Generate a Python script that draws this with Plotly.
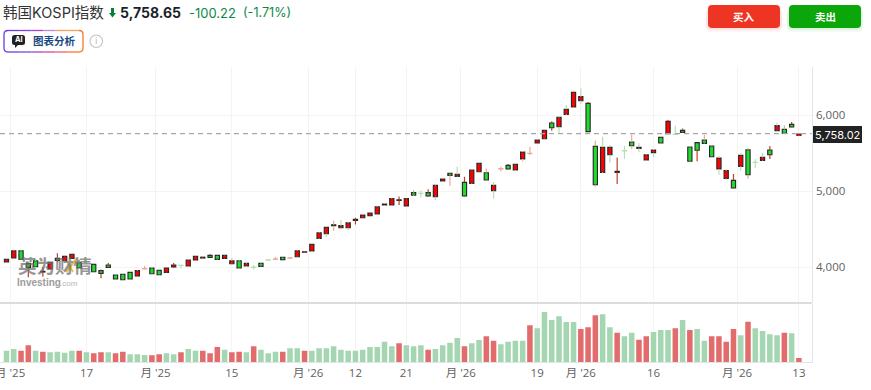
import plotly.graph_objects as go

W, H = 871, 390

open_ = [4066,4119,4215,4048,4083,3934,3974,4114,4083,4114,4057,4072,4035,3952,4026,3895,3903,3930,3881,3976,
         3987,3956,3930,4000,4024,4013,4092,4118,4154,4154,4114,4044,4083,4013,3998,4048,4094,4103,4127,4117,
         4136,4194,4211,4378,4439,4545,4518,4518,4615,4650,4677,4698,4817,4817,4879,4804,4980,4973,4980,4927,
         5133,5234,5195,5116,5103,5256,5243,5006,5294,5340,5278,5423,5496,5634,5691,5898,5849,6012,6109,6192,
         6157,5590,5248,5480,5248,5535,5647,5564,5410,5507,5709,5757,5750,5801,5581,5639,5674,5595,5292,5168,
         5142,5327,5546,5381,5406,5542,5797,5814,5880,5733]
close = [4101,4215,4101,3996,4004,3943,4061,4088,4141,4167,3987,4068,3938,3916,3996,3842,3833,3842,3952,3980,
         3912,3899,3987,4026,4020,4092,4141,4130,4127,4101,4154,4083,3987,4048,3994,4009,4090,4107,4097,4121,
         4215,4201,4299,4452,4523,4558,4545,4584,4628,4685,4712,4795,4830,4901,4887,4901,4945,4969,4936,5076,
         5160,5208,5221,4936,5278,5366,5147,5076,5298,5292,5353,5516,5500,5674,5801,5836,5972,6078,6302,6245,
         5784,5085,5577,5577,5261,5531,5599,5577,5480,5542,5634,5920,5746,5775,5393,5538,5630,5454,5437,5270,
         5041,5472,5217,5377,5445,5480,5863,5762,5845,5753]
high = [4110,4224,4224,4057,4101,4004,4070,4180,4154,4176,4092,4092,4057,3969,4053,3903,3908,3943,3960,4013,
        3996,3965,3991,4053,4024,4101,4149,4141,4167,4167,4163,4119,4092,4057,4026,4057,4105,4132,4136,4127,
        4224,4206,4312,4461,4532,4611,4619,4597,4650,4694,4720,4804,4839,4909,4931,4905,5015,5010,5024,5085,
        5169,5243,5322,5190,5287,5375,5300,5120,5322,5357,5366,5529,5586,5683,5810,5920,5981,6135,6324,6355,
        6175,5665,5718,5608,5445,5599,5748,5630,5489,5555,5715,5937,5863,5827,5590,5639,5740,5600,5463,5287,
        5226,5507,5564,5419,5507,5595,5906,5867,5911,5757]
low = [4061,4114,4097,3864,3996,3873,3969,4066,4075,4110,3978,4055,3930,3851,3991,3837,3828,3837,3877,3969,
       3907,3895,3925,3991,3982,4004,4083,4110,4123,4097,4110,4040,3978,3996,3969,4004,4079,4092,4088,4110,
       4127,4190,4202,4369,4400,4479,4510,4488,4562,4633,4668,4690,4808,4808,4817,4800,4936,4918,4927,4883,
       5125,5072,5190,4931,5095,5247,5138,4901,5261,5287,5261,5388,5476,5630,5687,5797,5770,6003,6100,6148,
       5779,5059,5239,5379,5094,5423,5555,5516,5401,5450,5630,5753,5740,5770,5388,5393,5626,5450,5217,5147,
       5037,5270,5164,5305,5401,5423,5792,5757,5841,5728]
wick_kind = list("ppgdgdpdpp" "ggpddgggpp" "ggpdgpppdg" "pggggggpgp"
                 "ppgpgpggdp" "ppppdppgdg" "ppgdpppgpd" "ggpppdggpg"
                 "dpggdgpgpg" "gdgdgdpggg" "dgpggdgpdp")

volume = [35,40,35,51,35,32,30,32,29,35,35,30,27,30,30,27,32,24,24,22,
          21,24,27,24,30,40,35,35,27,46,38,30,32,30,48,38,27,32,32,42,
          42,35,35,42,42,48,38,35,35,38,46,46,62,48,57,51,48,51,38,40,
          51,59,73,48,57,67,78,65,54,62,65,65,111,102,151,127,138,121,121,100,
          105,141,144,105,89,78,89,68,78,91,97,97,102,127,97,100,65,78,78,62,
          100,81,122,102,94,84,81,89,87,13]
vol_red_idx = [2,3,5,10,12,13,15,16,20,21,24,27,28,29,31,32,34,38,41,54,58,63,66,67,72,79,80,81,
               84,87,88,92,94,97,98,99,100,102,107,109]

tick_idx = [0.5,11,20.5,31,41.5,48,55,62.5,73,79,89,100.5,109]
tick_lab = ["月 '25","17","月 '25","15","月 '26","12","21","月 '26","19","月 '26","16","月 '26","13"]
price_ticks = [4000,5000,6000]
last_price = 5758.02

title_name = "韩国KOSPI指数"
title_price = "5,758.65"
title_chg = "-100.22"
title_pct = "(-1.71%)"

RED, GREEN = "#ff0000", "#1fdc2c"
WICK = {"g": "#b8dfb4", "p": "#e9ab9f", "d": "#b5452c"}
BORDER = "#262626"
FONT = "Inter, 'Noto Sans CJK SC', sans-serif"
AXFONT = "'Open Sans', 'Noto Sans CJK SC', sans-serif"
CJK = "'Noto Sans CJK SC', sans-serif"

n = len(close)
xs = list(range(n))
fig = go.Figure()

for kind, col in WICK.items():
    wx, wy = [], []
    for i in xs:
        if wick_kind[i] != kind:
            continue
        top, bot = max(open_[i], close[i]), min(open_[i], close[i])
        wx += [i, i, None, i, i, None]
        wy += [high[i], top, None, bot, low[i], None]
    fig.add_trace(go.Scatter(x=wx, y=wy, mode="lines", line=dict(color=col, width=1.2),
                             hoverinfo="skip", yaxis="y", xaxis="x", connectgaps=False))

line_cols = []
for i in xs:
    if abs(close[i] - open_[i]) <= 4:
        line_cols.append(WICK[wick_kind[i]])
    elif i == n - 1:
        line_cols.append("#8b1414")
    else:
        line_cols.append(BORDER)
fig.add_trace(go.Bar(x=xs, base=[min(o, c) for o, c in zip(open_, close)],
                     y=[abs(c - o) for o, c in zip(open_, close)], width=0.58,
                     marker=dict(color=[RED if c > o else GREEN for o, c in zip(open_, close)],
                                 line=dict(color=line_cols, width=1.1)),
                     yaxis="y", xaxis="x"))
fig.add_trace(go.Bar(x=xs, y=volume, width=0.76,
                     marker=dict(color=["#e26b6b" if i in vol_red_idx else "#a4d6b2" for i in xs], line=dict(width=0)),
                     yaxis="y2", xaxis="x"))

px = lambda x: x / W
py = lambda y: 1 - y / H


def rrect(x0, y0, x1, y1, r):
    a, b, c, d = px(x0), py(y0), px(x1), py(y1)
    rx, ry = r / W, r / H
    return (f"M{a+rx},{b} L{c-rx},{b} Q{c},{b} {c},{b-ry} L{c},{d+ry} Q{c},{d} {c-rx},{d} "
            f"L{a+rx},{d} Q{a},{d} {a},{d+ry} L{a},{b-ry} Q{a},{b} {a+rx},{b} Z")


shapes = []


def box(x0, y0, x1, y1, r, fill=None, line=None, lw=1, op=1):
    shapes.append(dict(type="path", path=rrect(x0, y0, x1, y1, r), xref="paper", yref="paper",
                       fillcolor=fill or "rgba(0,0,0,0)", line=dict(color=line or "rgba(0,0,0,0)", width=lw if line else 0),
                       opacity=op, layer="above"))


def seg(x0, y0, x1, y1, col, lw=1.3):
    shapes.append(dict(type="line", x0=px(x0), x1=px(x1), y0=py(y0), y1=py(y1), xref="paper", yref="paper",
                       line=dict(color=col, width=lw), layer="above"))


# separator and last-price line
seg(0, 303, 811.7, 303, "#dcdcdc", 2)
shapes.append(dict(type="line", xref="x domain", yref="y", x0=0, x1=1, y0=last_price, y1=last_price,
                   line=dict(color="#a8a8a8", width=1.4, dash="5px,4px"), layer="above"))

# buy/sell buttons with soft shadows
for dy, op in ((4, .05), (2, .07)):
    box(706, 5 + dy, 782, 28 + dy, 5, fill="#ee3524", op=op)
    box(787, 5 + dy, 863, 28 + dy, 5, fill="#0aa60a", op=op)
box(708, 5, 780, 28, 4, fill="#ee3524")
box(789, 5, 861, 28, 4, fill="#0aa60a")

# AI pill with gradient outline
stops = ["#6a3fe0", "#7b45dc", "#a145c4", "#d04a98", "#ee5f60", "#f57a2c"]
seglen = (79 - 8) / len(stops)
for k, c in enumerate(stops):
    seg(8 + k * seglen, 30.5, 8 + (k + 1) * seglen, 30.5, c if k < 3 else "#b48ad0" if k == 3 else "#f0a060")
    seg(8 + k * seglen, 52, 8 + (k + 1) * seglen, 52, c)
a, b = 4, 83
shapes.append(dict(type="path", xref="paper", yref="paper", line=dict(color="#6a3fe0", width=1.3), layer="above",
                   path=f"M{px(8)},{py(30.5)} Q{px(a)},{py(30.5)} {px(a)},{py(34.5)} L{px(a)},{py(48)} Q{px(a)},{py(52)} {px(8)},{py(52)}"))
shapes.append(dict(type="path", xref="paper", yref="paper", line=dict(color="#f57a2c", width=1.3), layer="above",
                   path=f"M{px(79)},{py(30.5)} Q{px(b)},{py(30.5)} {px(b)},{py(34.5)} L{px(b)},{py(48)} Q{px(b)},{py(52)} {px(79)},{py(52)}"))
box(12, 35, 25, 45, 2.5, fill="#222222")
shapes.append(dict(type="path", xref="paper", yref="paper", fillcolor="#222222", line=dict(width=0), layer="above",
                   path=f"M{px(15)},{py(44)} L{px(19)},{py(44)} L{px(15)},{py(48)} Z"))
# info icon
shapes.append(dict(type="circle", xref="paper", yref="paper", x0=px(90), x1=px(102.5), y0=py(47.5), y1=py(35),
                   line=dict(color="#c4c4c4", width=1.1), layer="above"))
# down arrow
shapes.append(dict(type="path", xref="paper", yref="paper", fillcolor="#0a7f3a", line=dict(width=0), layer="above",
                   path=f"M{px(109)},{py(13)} L{px(116)},{py(13)} L{px(112.5)},{py(17.5)} Z"))
shapes.append(dict(type="rect", xref="paper", yref="paper", fillcolor="#0a7f3a", line=dict(width=0), layer="above",
                   x0=px(111), x1=px(114), y0=py(13.5), y1=py(8)))
# watermark accent
seg(66, 272, 77, 258, "#f0c050", 2.5)
seg(73, 272, 68, 263, "#f0c050", 2)


def text(x, y, s, size, col, font=FONT, anchor="left", bold=False, op=1):
    fig.add_annotation(x=px(x), y=py(y), xref="paper", yref="paper", text=f"<b>{s}</b>" if bold else s,
                       showarrow=False, xanchor=anchor, yanchor="middle", opacity=op,
                       font=dict(size=size, color=col, family=font), borderpad=0, borderwidth=0)


text(3, 13, title_name, 14.5, "#333333", font="Inter, 'Noto Sans CJK SC', sans-serif")
text(120, 13, title_price, 14, "#1b1f2a", bold=True)
text(188.5, 13, title_chg, 13, "#0a8a45")
text(242.5, 13, title_pct, 12.6, "#0a8a45")
text(33, 41, "图表分析", 10.5, "#17497f", font=CJK, bold=True)
text(18.5, 40, "AI", 7.5, "#ffffff", anchor="center", bold=True, font="Inter, sans-serif")
text(96.2, 41, "i", 9, "#b8b8b8", anchor="center", font="'DejaVu Sans', sans-serif")
text(744, 16.5, "买入", 10.5, "#ffffff", font=CJK, anchor="center", bold=True)
text(825, 16.5, "卖出", 10.5, "#ffffff", font=CJK, anchor="center", bold=True)
text(18, 264.5, "英为财情", 18.5, "#6f6f6f", font=CJK, bold=True, op=.72)
text(17, 282.5, "Investing", 10, "#8c8c8c", font="'Liberation Sans', sans-serif", bold=True, op=.85)
text(60, 283, ".com", 8, "#b0b0b0", font="'Liberation Sans', sans-serif", op=.9)
text(837.5, 134.5, f"{last_price:,.2f}", 11, "#ffffff", anchor="center", font="Inter, sans-serif")
shapes.append(dict(type="rect", xref="paper", yref="paper", x0=px(813), x1=px(862), y0=py(126), y1=py(143),
                   fillcolor="#222222", line=dict(width=0), layer="below"))

axis_line = "#e3e3ea"
grid = "#f4f4f4"
fig.update_layout(
    width=W, height=H, margin=dict(l=0, r=0, t=0, b=0, autoexpand=False), paper_bgcolor="white", plot_bgcolor="white",
    showlegend=False, barmode="overlay", shapes=shapes, hovermode=False,
    font=dict(family=FONT, color="#5f5f5f", size=12),
    xaxis=dict(domain=[0, 811.7 / W], range=[-0.894, 110.76], anchor="y2", tickmode="array", tickvals=tick_idx,
               ticktext=tick_lab, showgrid=True, gridcolor=grid, gridwidth=1, zeroline=False, showline=True,
               linecolor=axis_line, linewidth=1, ticks="",
               ticklabeloverflow="allow", tickfont=dict(size=11.5, color="#5f5f5f", family=AXFONT)),
    yaxis=dict(domain=[py(303), py(67)], range=[3526, 6636], side="right", anchor="x", tickmode="array",
               tickvals=price_ticks, tickformat=",", showgrid=True, gridcolor=grid, zeroline=False, showline=True,
               linecolor=axis_line, linewidth=1, ticks="outside", ticklen=1, tickcolor="rgba(0,0,0,0)",
               tickfont=dict(size=11.5, color="#5f5f5f", family=AXFONT)),
    yaxis2=dict(domain=[py(362.3), py(304)], range=[0, 175], side="right", anchor="x", showticklabels=False,
                showgrid=False, zeroline=False, showline=True, linecolor=axis_line, linewidth=1, ticks=""),
)
fig.write_html("out.html", config={"displayModeBar": False},
               post_script="document.body.style.margin='0';document.body.style.background='white';")
